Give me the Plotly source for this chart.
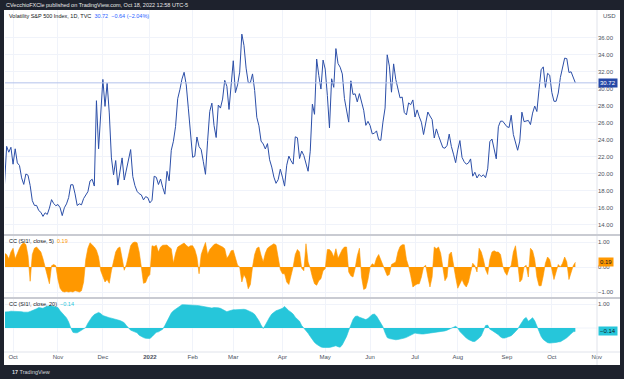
import pandas as pd
import plotly.graph_objects as go
from plotly.subplots import make_subplots

# ---------------- data ----------------
holidays = ["2021-11-25", "2021-12-24", "2022-01-17", "2022-02-21", "2022-04-15",
            "2022-05-30", "2022-06-20", "2022-07-04", "2022-09-05"]
sessions = [d for d in pd.bdate_range("2021-09-24", "2022-10-18")
            if d.strftime("%Y-%m-%d") not in holidays]

vix_close = [
    17.75, 18.76, 23.25, 22.56, 23.14,
    # Oct 2021
    21.15, 22.96, 21.30, 21.00, 19.54, 18.77, 20.00, 19.85, 18.64, 16.86, 16.30,
    16.30, 15.70, 15.49, 15.01, 15.43, 15.24, 15.98, 16.98, 16.53, 16.26,
    # Nov 2021
    16.41, 16.03, 15.10, 16.03, 16.48, 17.22, 18.73, 18.73, 17.66, 16.29, 16.49,
    16.37, 17.11, 17.59, 17.91, 19.17, 19.38, 18.58, 28.62, 22.96, 27.19,
    # Dec 2021
    31.12, 27.95, 30.67, 27.18, 21.89, 19.90, 21.58, 18.69, 20.31, 21.89, 19.29,
    20.57, 21.57, 22.87, 19.70, 18.63, 17.96, 17.68, 17.54, 16.95, 17.33, 17.22,
    # Jan 2022
    16.60, 16.91, 19.73, 19.61, 18.76, 19.40, 18.41, 17.62, 20.31, 19.19,
    22.79, 23.85, 25.59, 28.85, 29.90, 31.16, 31.96, 30.49, 27.66, 24.83,
    # Feb 2022
    21.96, 22.09, 24.35, 23.22, 22.86, 21.44, 19.96, 23.91, 27.36, 28.33,
    25.70, 24.29, 28.11, 27.75, 28.81, 31.02, 30.32, 27.59, 30.15,
    # Mar 2022
    33.32, 29.57, 30.48, 31.98, 36.45, 35.13, 32.45, 30.75, 30.75, 31.77, 29.83,
    26.67, 25.67, 23.87, 23.53, 22.94, 23.57, 21.67, 20.81, 19.63, 18.90, 19.33, 20.56,
    # Apr 2022
    19.63, 18.57, 21.03, 22.10, 21.55, 21.16, 24.37, 24.26, 21.82, 22.70,
    22.17, 21.37, 20.32, 22.68, 28.21, 27.02, 33.52, 31.60, 29.99, 33.40,
    # May 2022
    32.34, 29.25, 25.42, 31.20, 30.19, 34.75, 32.99, 32.56, 31.77, 28.87, 27.47,
    26.10, 30.96, 29.35, 29.43, 28.48, 29.45, 28.37, 27.50, 25.72, 26.19,
    # Jun 2022
    25.69, 24.72, 24.79, 25.07, 24.02, 23.96, 26.09, 27.75, 34.02, 32.69, 29.62,
    32.95, 31.13, 30.19, 28.95, 29.05, 27.23, 26.95, 28.36, 28.16, 28.71,
    # Jul 2022
    26.70, 27.54, 26.73, 26.08, 24.64, 26.17, 27.29, 26.82, 26.40, 24.23,
    25.30, 24.50, 23.88, 23.11, 23.03, 23.36, 24.69, 23.24, 22.33, 21.33,
    # Aug 2022
    22.84, 23.93, 21.95, 21.44, 21.15, 21.29, 21.77, 19.74, 20.20, 19.53, 19.95,
    19.69, 19.90, 19.56, 20.60, 23.80, 24.11, 22.82, 21.78, 25.56, 26.21, 26.21, 25.87,
    # Sep 2022
    25.56, 25.47, 26.91, 24.64, 23.61, 22.79, 23.87, 27.27, 26.16, 26.27, 26.30,
    25.81, 27.16, 27.99, 27.35, 29.92, 32.26, 32.60, 30.18, 31.84, 31.62,
    # Oct 2022
    29.59, 28.55, 28.55, 29.52, 31.36, 32.45, 33.63, 33.57, 31.94, 32.02, 31.37, 30.72,
]

cc5 = [
    0.30,
    0.55, 0.50, 0.33, 0.60, 0.75, 0.33, 0.55, 0.75, 0.90, 0.97,
    0.90, 0.45, -0.57, 0.50, 0.75, 0.80, 0.70, 0.60, 0.33, 0.00,
    -0.30, -0.67, 0.05, 0.10, 0.05, -0.50, -0.85, -0.97, -1.00, -0.98,
    -1.00, -0.98, -1.00, -0.95, -0.97, -1.00, -0.95, -0.60, 0.30, 0.75,
    0.97, 0.90, 0.80, 0.67, 0.40, -0.15, -0.35, -0.60, -0.50, -0.65,
    -0.15, 0.30, 0.60, 0.75, 0.80, 0.35, -0.13, 0.10, 0.50, 0.85,
    0.97, 1.00, 0.97, 0.60, 0.00, -0.65, -0.62, -0.40, -0.30, 0.85,
    0.82, 0.87, 0.60, 0.80, 0.87, 0.88, 0.88, 0.80, 0.73, 0.15,
    0.55, 0.80, 0.85, 0.90, 0.96, 0.87, 0.80, 0.85, 0.85, 0.70,
    0.40, -0.27, 0.50, 0.75, 0.98, 0.50, 0.70, 0.80, 0.90, 0.93,
    0.89, 0.85, 0.80, 0.73, 0.35, 0.47, 0.65, 0.67, 0.40, 0.07,
    0.00, -0.60, -0.30, -0.47, -0.87, -0.70, 0.00, 0.50, 0.75, 0.80,
    0.47, 0.20, 0.55, 0.75, 0.82, 0.88, 0.93, 0.87, 0.40, -0.10,
    -0.27, -0.27, -0.60, -0.70, -0.35, 0.00, 0.50, 0.70, 0.60, -0.05,
    -0.15, 0.93, 0.20, -0.05, -0.40, -0.67, -0.73, -0.55, -0.47, -0.15,
    -0.07, 0.70, 0.70, 0.60, 0.40, 0.73, 0.35, 0.55, 0.70, 0.80,
    0.80, -0.20, -0.35, -0.40, -0.05, 0.45, 0.75, -0.40, -0.90, -0.85,
    -0.50, 0.00, 0.13, 0.07, 0.35, 0.50, 0.30, 0.05, -0.10, -0.35,
    -0.30, 0.10, 0.15, 0.20, 0.60, 0.82, 0.89, 0.89, 0.30, 0.03,
    -0.35, -0.80, -0.73, -0.68, -0.67, -0.40, 0.00, 0.07, -0.40, -0.80,
    -0.40, 0.80, 0.73, 0.80, 0.55, -0.05, -0.55, -0.40, 0.50, 0.60,
    0.00, -0.40, -0.85, -0.65, -0.50, -0.70, -0.80, -0.60, -0.20, 0.15,
    0.05, -0.20, 0.75, 0.60, 0.30, -0.10, -0.30, 0.30, 0.60, 0.65,
    0.60, 0.60, 0.50, 0.05, -0.20, -0.33, -0.07, 0.07, 0.60, 0.85,
    0.20, -0.60, -0.50, 0.00, 0.07, -0.40, 0.75, 0.65, 0.30, -0.40,
    -0.75, -0.75, -0.35, 0.15, 0.40, 0.30, -0.10, -0.50, -0.20, 0.10,
    0.00, 0.15, 0.40, 0.20, -0.50, -0.20, 0.05, 0.19,
]

cc20 = [
    0.65,
    0.65, 0.66, 0.68, 0.70, 0.70, 0.68, 0.70, 0.70, 0.68, 0.66,
    0.65, 0.66, 0.69, 0.72, 0.76, 0.80, 0.85, 0.84, 0.82, 0.87,
    0.90, 0.93, 0.92, 0.90, 0.88, 0.85, 0.72, 0.60, 0.52, 0.42,
    0.25, 0.00, -0.18, -0.20, -0.20, -0.15, -0.08, -0.02, 0.02, 0.20,
    0.35, 0.47, 0.56, 0.61, 0.65, 0.60, 0.52, 0.49, 0.45, 0.43,
    0.41, 0.39, 0.36, 0.33, 0.31, 0.27, 0.22, 0.10, 0.00, -0.09,
    -0.13, -0.16, -0.20, -0.30, -0.36, -0.40, -0.43, -0.43, -0.44, -0.36,
    -0.25, -0.18, -0.16, -0.12, -0.05, 0.10, 0.27, 0.45, 0.62, 0.72,
    0.79, 0.85, 0.92, 0.97, 0.97, 0.97, 0.97, 0.96, 0.96, 0.95,
    0.94, 0.93, 0.91, 0.89, 0.87, 0.85, 0.83, 0.83, 0.85, 0.86,
    0.84, 0.82, 0.77, 0.70, 0.68, 0.71, 0.74, 0.76, 0.76, 0.77,
    0.78, 0.79, 0.78, 0.76, 0.73, 0.70, 0.64, 0.57, 0.45, 0.30,
    0.12, -0.02, 0.12, 0.30, 0.45, 0.58, 0.66, 0.72, 0.75, 0.78,
    0.82, 0.90, 0.80, 0.72, 0.66, 0.58, 0.45, 0.35, 0.28, 0.10,
    0.00, -0.11, -0.22, -0.35, -0.50, -0.60, -0.68, -0.75, -0.79, -0.81,
    -0.82, -0.82, -0.81, -0.79, -0.77, -0.74, -0.78, -0.80, -0.70, -0.53,
    -0.35, -0.10, 0.15, 0.35, 0.48, 0.50, 0.45, 0.41, 0.38, 0.35,
    0.40, 0.50, 0.56, 0.58, 0.50, 0.35, 0.20, 0.05, -0.20, -0.40,
    -0.44, -0.46, -0.48, -0.49, -0.48, -0.47, -0.44, -0.42, -0.39, -0.34,
    -0.29, -0.25, -0.21, -0.23, -0.25, -0.25, -0.25, -0.24, -0.22, -0.20,
    -0.19, -0.18, -0.17, -0.15, -0.14, -0.13, -0.12, -0.09, -0.06, -0.02,
    0.03, 0.07, 0.00, -0.15, -0.25, -0.32, -0.42, -0.48, -0.53, -0.56,
    -0.56, -0.50, -0.42, -0.32, -0.12, 0.10, 0.12, -0.05, -0.10, -0.15,
    -0.22, -0.28, -0.37, -0.42, -0.42, -0.39, -0.35, -0.32, -0.24, -0.15,
    -0.05, 0.10, 0.25, 0.38, 0.44, 0.28, 0.35, 0.43, 0.30, 0.08,
    -0.12, -0.35, -0.48, -0.56, -0.61, -0.63, -0.63, -0.62, -0.60, -0.58,
    -0.57, -0.52, -0.47, -0.41, -0.32, -0.25, -0.16, -0.14,
]

tick_dates = ["2021-10-01", "2021-11-01", "2021-12-01", "2022-01-03", "2022-02-01",
              "2022-03-01", "2022-04-01", "2022-05-02", "2022-06-01", "2022-07-01",
              "2022-08-01", "2022-09-01", "2022-10-03", "2022-11-01"]
tick_labels = ["Oct", "Nov", "Dec", "<b>2022</b>", "Feb", "Mar", "Apr", "May", "Jun",
               "Jul", "Aug", "Sep", "Oct", "Nov"]
price_ticks = [14, 16, 18, 20, 22, 24, 26, 28, 30, 32, 34, 36]
cc5_ticks = [-1, 0, 1]
cc20_ticks = [1]
last_price = 30.72
last_cc5 = 0.19
last_cc20 = -0.14

assert len(sessions) == len(vix_close) == len(cc5) == len(cc20), (
    len(sessions), len(vix_close), len(cc5), len(cc20))

# ---------------- styling ----------------
BLUE = "#2c4fa8"
ORANGE = "#ff9800"
CYAN = "#26c6da"
FRAME = "#1e222d"
GRID = "#f0f3fa"
TXT = "#4c525e"
FONT = "Liberation Sans"

W, H = 624, 379
L, R, T, B = 5, 27, 10, 27
PW, PH = W - L - R, H - T - B


def px(x):
    return (x - L) / PW


def py(y):
    return (H - B - y) / PH


fig = make_subplots(rows=3, cols=1, shared_xaxes=True, vertical_spacing=0,
                    row_heights=[225, 63, 54])

fig.add_trace(go.Scatter(x=sessions, y=vix_close, mode="lines",
                         line=dict(color=BLUE, width=1), hoverinfo="skip"),
              row=1, col=1)
fig.add_trace(go.Scatter(x=sessions, y=cc5, mode="lines",
                         line=dict(color=ORANGE, width=0.6), fill="tozeroy",
                         fillcolor=ORANGE, hoverinfo="skip"), row=2, col=1)
fig.add_trace(go.Scatter(x=sessions, y=cc20, mode="lines",
                         line=dict(color=CYAN, width=0.6), fill="tozeroy",
                         fillcolor=CYAN, hoverinfo="skip"), row=3, col=1)

fig.update_xaxes(
    rangebreaks=[dict(bounds=["sat", "mon"]), dict(values=holidays)],
    range=["2021-09-27 05:30", "2022-11-01 03:00"],
    tickvals=tick_dates, ticktext=tick_labels,
    showgrid=True, gridcolor=GRID, gridwidth=1, zeroline=False, showline=False,
    ticks="", tickfont=dict(size=6, color=TXT, family=FONT), automargin=False,
)
common_y = dict(side="right", showgrid=True, gridcolor=GRID, gridwidth=1,
                zeroline=False, showline=False, ticks="", automargin=False,
                tickformat=".2f", tickfont=dict(size=6, color=TXT, family=FONT))
fig.update_yaxes(row=1, col=1, range=[12.82, 39.29], tickvals=price_ticks, **common_y)
fig.update_yaxes(row=2, col=1, range=[-1.24, 1.28], tickvals=cc5_ticks, **common_y)
fig.update_yaxes(row=3, col=1, range=[-1.0, 1.25], tickvals=cc20_ticks, **common_y)

shapes = [
    # white chart canvas inside dark frame
    dict(type="rect", xref="paper", yref="paper", x0=px(4), x1=px(620),
         y0=py(365), y1=py(10), fillcolor="white", line=dict(width=0), layer="below"),
    # price axis separator
    dict(type="line", xref="paper", yref="paper", x0=1, x1=1, y0=py(365), y1=py(10),
         line=dict(color="#e0e3eb", width=1)),
    # pane separators
    dict(type="line", xref="paper", yref="paper", x0=px(4), x1=px(620),
         y0=py(235), y1=py(235), line=dict(color="#c9cbd2", width=2)),
    dict(type="line", xref="paper", yref="paper", x0=px(4), x1=px(620),
         y0=py(298), y1=py(298), line=dict(color="#c9cbd2", width=2)),
    dict(type="line", xref="paper", yref="paper", x0=px(4), x1=px(620),
         y0=0, y1=0, line=dict(color="#e0e3eb", width=1)),
    # zero grid of the 20-period pane
    dict(type="line", xref="x3 domain", yref="y3", x0=0, x1=1, y0=0, y1=0,
         line=dict(color=GRID, width=1), layer="below"),
    # last price line
    dict(type="line", xref="x domain", yref="y", x0=0, x1=1, y0=last_price,
         y1=last_price, line=dict(color="#b3c2ec", width=1)),
]

small = dict(family=FONT, size=5.5, color="#131722")
annotations = [
    dict(text="CVecchioFXCle published on TradingView.com, Oct 18, 2022 12:58 UTC-5",
         x=px(4), y=py(5), xref="paper", yref="paper", xanchor="left", yanchor="middle",
         showarrow=False, font=dict(family=FONT, size=5.5, color="#e8e8e8")),
    dict(text="Volatility S&amp;P 500 Index, 1D, TVC  "
              f"<span style='color:#2962ff'>{last_price:.2f}  −0.64 (−2.04%)</span>",
         x=px(7), y=py(16), xref="paper", yref="paper", xanchor="left", yanchor="middle",
         showarrow=False, font=small),
    dict(text=f"CC (SI1!, close, 5)  <span style='color:{ORANGE}'>{last_cc5:.2f}</span>",
         x=px(7), y=py(241.5), xref="paper", yref="paper", xanchor="left",
         yanchor="middle", showarrow=False, font=small),
    dict(text=f"CC (SI1!, close, 20)  <span style='color:{CYAN}'>−{abs(last_cc20):.2f}</span>",
         x=px(7), y=py(304), xref="paper", yref="paper", xanchor="left",
         yanchor="middle", showarrow=False, font=small),
    dict(text="USD", x=px(601), y=py(16), xref="paper", yref="paper", xanchor="left",
         yanchor="middle", showarrow=False, font=dict(family=FONT, size=6, color=TXT)),
    dict(text=f"{last_price:.2f}", x=1, xshift=1, y=last_price, xref="paper", yref="y",
         xanchor="left", yanchor="middle", showarrow=False, bgcolor="#2447a6",
         borderpad=1, font=dict(family=FONT, size=6, color="white")),
    dict(text=f"{last_cc5:.2f}", x=1, xshift=1, y=last_cc5, xref="paper", yref="y2",
         xanchor="left", yanchor="middle", showarrow=False, bgcolor=ORANGE,
         borderpad=1, font=dict(family=FONT, size=6, color="#131722")),
    dict(text=f"−{abs(last_cc20):.2f}", x=1, xshift=1, y=last_cc20, xref="paper", yref="y3",
         xanchor="left", yanchor="middle", showarrow=False, bgcolor=CYAN,
         borderpad=1, font=dict(family=FONT, size=6, color="#131722")),
    dict(text="<b>17</b> TradingView", x=px(10), y=py(372), xref="paper", yref="paper",
         xanchor="left", yanchor="middle", showarrow=False,
         font=dict(family=FONT, size=5.5, color="#d1d4dc")),
]

fig.update_layout(
    width=W, height=H, margin=dict(l=L, r=R, t=T, b=B, autoexpand=False),
    paper_bgcolor=FRAME, plot_bgcolor="white", showlegend=False,
    font=dict(family=FONT), shapes=shapes, annotations=annotations,
)

fig.write_html(
    "out.html",
    config={"displayModeBar": False, "staticPlot": True},
    post_script="document.body.style.margin='0';document.body.style.padding='0';"
                "document.body.style.overflow='hidden';",
)
